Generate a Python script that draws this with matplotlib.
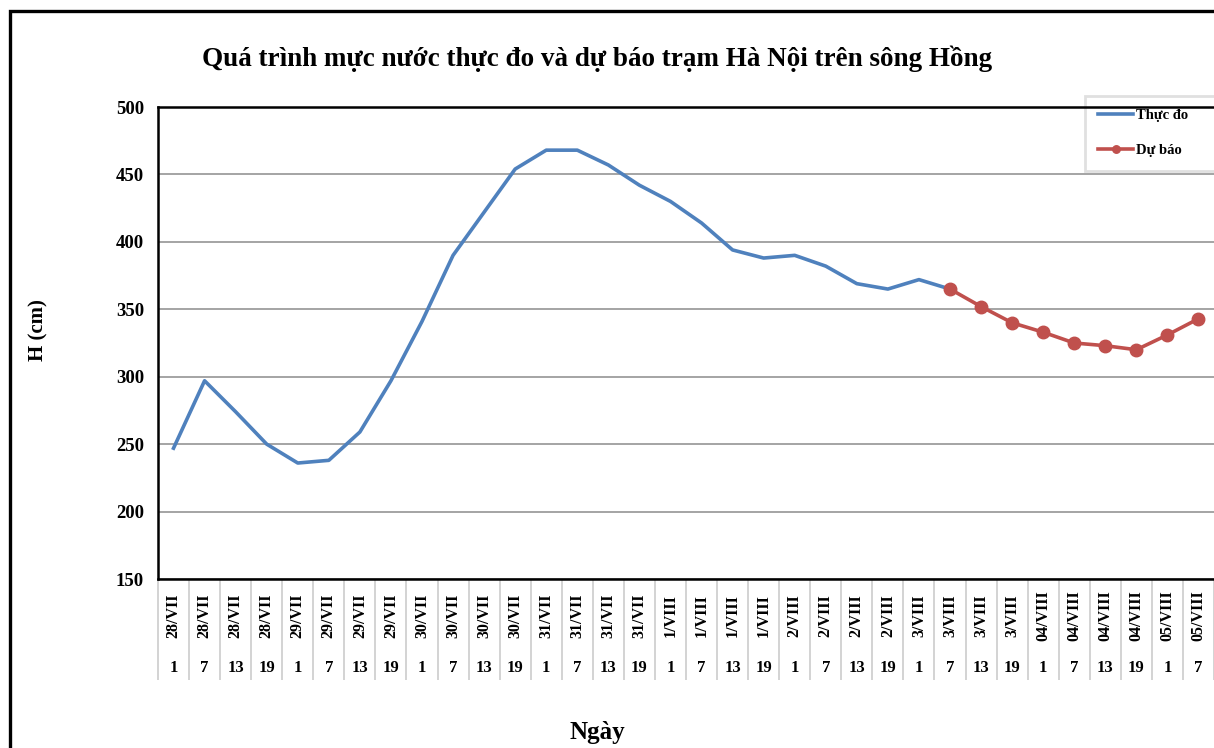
import numpy as np
import matplotlib
matplotlib.use("Agg")
import matplotlib.pyplot as plt
from matplotlib.patches import Rectangle
from matplotlib.transforms import blended_transform_factory

plt.rcParams['font.family'] = ['Liberation Serif', 'DejaVu Serif']
plt.rcParams['font.weight'] = 'bold'

# ---- data ----
dates = (["28/VII"] * 4 + ["29/VII"] * 4 + ["30/VII"] * 4 + ["31/VII"] * 4 +
         ["1/VIII"] * 4 + ["2/VIII"] * 4 + ["3/VIII"] * 4 + ["04/VIII"] * 4 +
         ["05/VIII"] * 2)
hours = ["1", "7", "13", "19"] * 8 + ["1", "7"]

observed = [247, 297, 274, 250, 236, 238, 259, 297, 341, 390, 422, 454,
            468, 468, 457, 442, 430, 414, 394, 388, 390, 382, 369, 365,
            372, 365]
forecast = [365, 352, 340, 333, 325, 323, 320, 331, 343]
forecast_start = 25

title = "Quá trình mực nước thực đo và dự báo trạm Hà Nội trên sông Hồng"
ylabel = "H (cm)"
xlabel = "Ngày"
yticks = [150, 200, 250, 300, 350, 400, 450, 500]

# ---- figure ----
W, H = 1214, 748
fig = plt.figure(figsize=(W / 100, H / 100), dpi=100)
ax = fig.add_axes([158 / W, 1 - 579 / H, 1 - 158 / W, (579 - 107) / H])

n = len(dates)
x_obs = np.arange(len(observed))
x_fc = np.arange(forecast_start, forecast_start + len(forecast))

blue = '#4F81BD'
red = '#C0504D'
ax.plot(x_obs, observed, color=blue, lw=2.6, label="Thực đo", zorder=4,
        solid_joinstyle='round')
ax.plot(x_fc, forecast, color=red, lw=2.6, marker='o', markersize=9,
        label="Dự báo", zorder=5)

ax.set_xlim(-0.5, n - 0.5)
ax.set_ylim(150, 500)
ax.set_yticks(yticks)
ax.set_yticklabels([str(v) for v in yticks], fontsize=13.5, fontweight='bold')
ax.tick_params(axis='y', length=0, pad=10)
ax.grid(axis='y', color='#8c8c8c', lw=1.1, zorder=1)
ax.set_axisbelow(True)

# x axis: separators as minor ticks, labels as texts
ax.set_xticks([])
ax.set_xticks(np.arange(-0.5, n, 1), minor=True)
ax.tick_params(axis='x', which='minor', length=73, width=1.1,
               color='#c8c8c8', direction='out')
ax.tick_params(axis='x', which='major', length=0)
trans = blended_transform_factory(ax.transData, ax.transAxes)
for i, (d, h) in enumerate(zip(dates, hours)):
    ax.text(i, -0.077, d, rotation=90, ha='center', va='center',
            fontsize=11.5, fontweight='bold', transform=trans)
    ax.text(i, -0.189, h, ha='center', va='center',
            fontsize=12, fontweight='bold', transform=trans)

for side in ['left', 'bottom', 'top']:
    ax.spines[side].set_color('black')
    ax.spines[side].set_linewidth(1.8)
ax.spines['right'].set_visible(False)
ax.spines['top'].set_zorder(6)

fig.text(597 / W, 1 - 59 / H, title, ha='center', va='center',
         fontsize=19.5, fontweight='bold')
fig.text(38 / W, 1 - 330 / H, ylabel, rotation=90, ha='center', va='center',
         fontsize=15, fontweight='bold')
fig.text(597 / W, 1 - 733 / H, xlabel, ha='center', va='center',
         fontsize=18, fontweight='bold')

leg = ax.legend(loc='upper left',
                bbox_to_anchor=(1085 / W, 1 - 165 / H, 150 / W, 69 / H),
                bbox_transform=fig.transFigure, mode='expand',
                frameon=True, fancybox=False,
                prop={'size': 10.5, 'weight': 'bold'}, handlelength=2.4,
                handletextpad=0.2, labelspacing=1.5, borderpad=0.9,
                markerscale=0.6, borderaxespad=0)
leg.get_frame().set_edgecolor('#d9d9d9')
leg.get_frame().set_linewidth(2)
leg.set_zorder(3)

# outer chart border (top and left visible)
fig.patches.append(Rectangle((9.5 / W, -0.2), 1.2, 1.2 - 10.5 / H,
                             transform=fig.transFigure, fill=False,
                             edgecolor='black', lw=2.4, zorder=0))

fig.savefig("out.png", dpi=100)
